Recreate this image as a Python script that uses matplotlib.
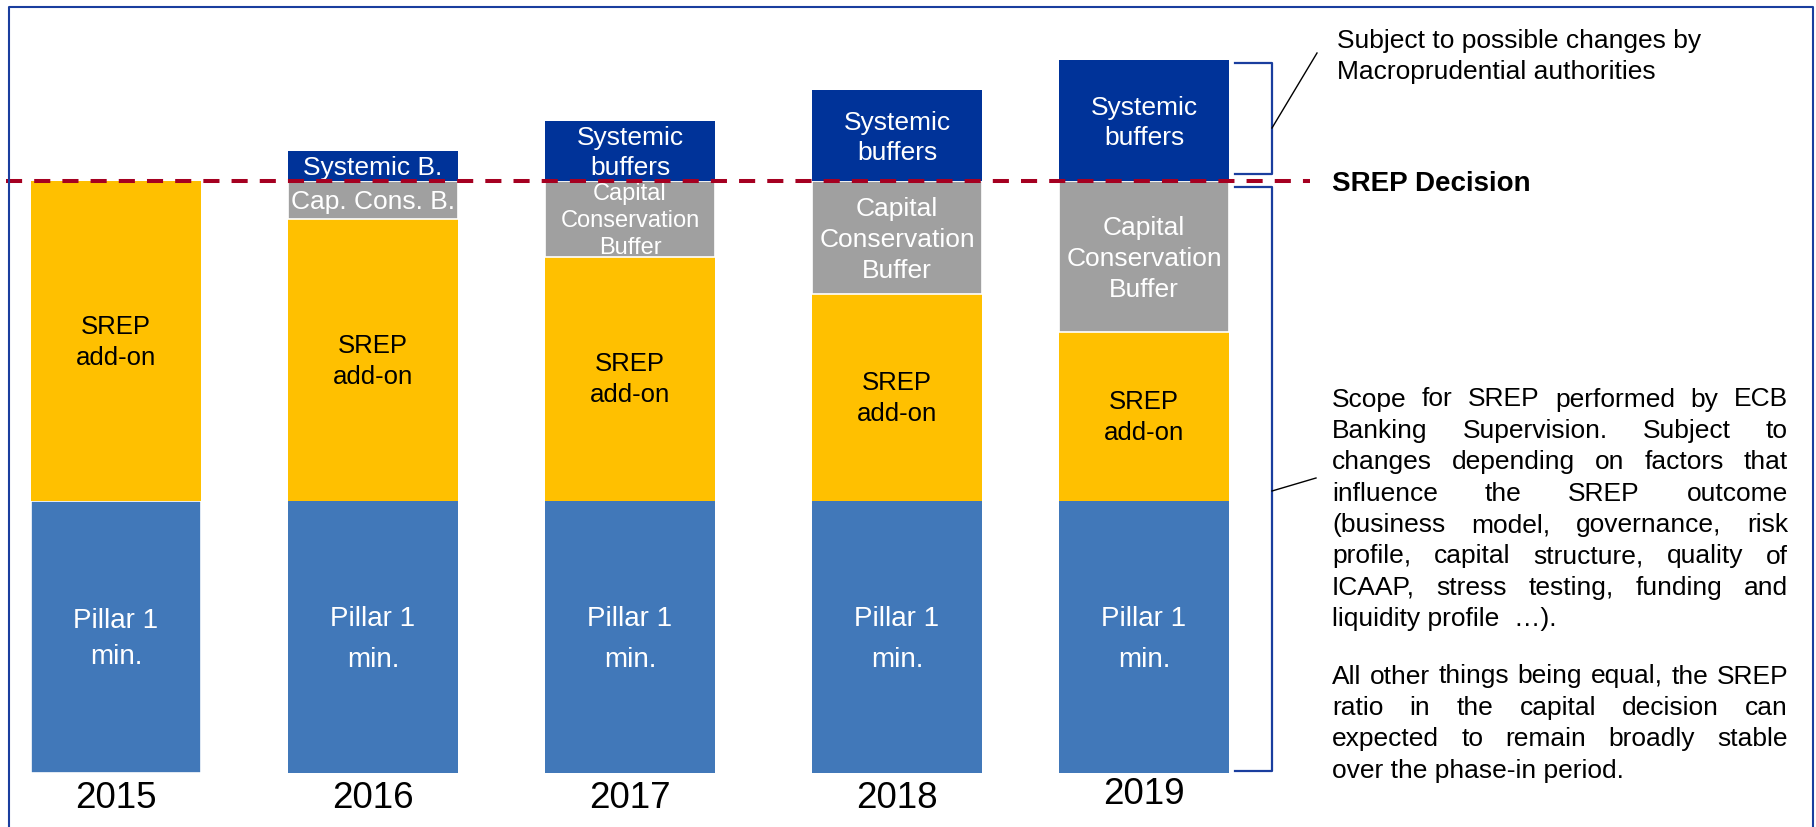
import matplotlib
matplotlib.use("Agg")
import matplotlib.pyplot as plt

plt.rcParams['font.family'] = ['Liberation Sans', 'DejaVu Sans']

# ---- data (% of risk-weighted assets) ----
years = ["2015", "2016", "2017", "2018", "2019"]
pillar1 = [4.5, 4.5, 4.5, 4.5, 4.5]
srep_addon = [5.3, 4.675, 4.05, 3.425, 2.8]
cap_cons_buffer = [0.0, 0.625, 1.25, 1.875, 2.5]
systemic_buffers = [0.0, 0.5, 1.0, 1.5, 2.0]

pillar_labels = ["Pillar 1\nmin."] * 5
addon_labels = ["SREP\nadd-on"] * 5
ccb_labels = ["", "Cap. Cons. B.", "Capital\nConservation\nBuffer",
              "Capital\nConservation\nBuffer", "Capital\nConservation\nBuffer"]
systemic_labels = ["", "Systemic B.", "Systemic\nbuffers",
                   "Systemic\nbuffers", "Systemic\nbuffers"]

top_note = "Subject to possible changes by\nMacroprudential authorities"
decision_label = "SREP Decision"
scope_lines = [
    "Scope for SREP performed by ECB",
    "Banking Supervision. Subject to",
    "changes depending on factors that",
    "influence the SREP outcome",
    "(business model, governance, risk",
    "profile, capital structure, quality of",
    "ICAAP, stress testing, funding and",
    "liquidity profile  \u2026).",
]
stable_lines = [
    "All other things being equal, the SREP",
    "ratio in the capital decision can",
    "expected to remain broadly stable",
    "over the phase-in period.",
]

# ---- layout ----
W, H, DPI = 1816, 827, 100
PPU = 60.4          # pixels per percentage point
BASE = 773          # baseline, pixels from top
x_centers = [116, 373, 630, 897, 1144]
bar_w = 170

C_PILLAR = "#4178B9"
C_ADDON = "#FFC000"
C_CCB = "#A0A0A0"
C_SYS = "#003399"
C_DASH = "#A50021"
C_FRAME = "#1A3E9E"

fig = plt.figure(figsize=(W / DPI, H / DPI), dpi=DPI)
ax = fig.add_axes([0, 0, 1, 1])
ax.set_xlim(0, W)
ax.set_ylim(-(H - BASE) / PPU, BASE / PPU)
ax.axis("off")

ov = fig.add_axes([0, 0, 1, 1], zorder=5)
ov.set_xlim(0, W)
ov.set_ylim(H, 0)
ov.axis("off")
ov.patch.set_alpha(0)


def stacked_bar(values, bottoms, color, lw):
    return ax.bar(x_centers, values, bottom=bottoms, width=bar_w, color=color,
                  edgecolor="white", linewidth=lw, zorder=2)


b0 = [0] * 5
b1 = [p for p in pillar1]
b2 = [p + a for p, a in zip(pillar1, srep_addon)]
b3 = [p + a + c for p, a, c in zip(pillar1, srep_addon, cap_cons_buffer)]

bars_p = stacked_bar(pillar1, b0, C_PILLAR, [1.2, 0, 0, 0, 0])
bars_a = stacked_bar(srep_addon, b1, C_ADDON, 0)
bars_c = stacked_bar(cap_cons_buffer, b2, C_CCB, [0, 1.2, 1.2, 1.2, 1.2])
bars_s = stacked_bar(systemic_buffers, b3, C_SYS, 0)


def seg_label(x, ymid, text, size, color, spacing, patch, dy=0):
    lines = text.split("\n")
    n = len(lines)
    for i, line in enumerate(lines):
        off = ((n - 1) / 2 - i) * spacing - dy
        t = ax.text(x, ymid + off / PPU, line, ha="center", va="center",
                    fontsize=size, color=color, zorder=3)
        t.set_clip_path(patch)


for i in range(5):
    x = x_centers[i]
    seg_label(x, pillar1[i] / 2, pillar_labels[i], 20, "white",
              36 if i == 0 else 41, bars_p.patches[i], dy=2)
    seg_label(x, b1[i] + srep_addon[i] / 2, addon_labels[i], 18.5, "black",
              31, bars_a.patches[i], dy=1)
    if cap_cons_buffer[i] > 0:
        small = i == 2
        seg_label(x, b2[i] + cap_cons_buffer[i] / 2, ccb_labels[i],
                  17 if small else 19, "white", 27 if small else 31,
                  bars_c.patches[i], dy=2)
    if systemic_buffers[i] > 0:
        seg_label(x, b3[i] + systemic_buffers[i] / 2, systemic_labels[i], 19,
                  "white", 30, bars_s.patches[i], dy=2)

# year labels under the bars
year_dy = [0, 0, 0, 0, -4]
for i, y in enumerate(years):
    ax.text(x_centers[i], -(26 + year_dy[i]) / PPU, y, ha="center", va="center",
            fontsize=26.5, color="black")

# SREP decision level
srep_level = b2[0] + cap_cons_buffer[0]
ax.plot([6, 1310], [srep_level, srep_level], color=C_DASH, lw=2.9,
        linestyle=(0, (4, 3)), zorder=4, solid_capstyle="butt")

# frame
ov.plot([9, 9, 1813, 1813], [H + 5, 7, 7, H + 5], color=C_FRAME, lw=1.5)

# brackets
ov.plot([1235, 1272, 1272, 1235], [63, 63, 174, 174], color=C_FRAME, lw=1.6)
ov.plot([1235, 1272, 1272, 1235], [187, 187, 771, 771], color=C_FRAME, lw=1.6)
ov.plot([1272, 1317], [128, 53], color="black", lw=1.0)
ov.plot([1272, 1316], [491, 478], color="black", lw=1.0)

# notes
ov.text(1337, 41, top_note.split("\n")[0], ha="left", va="center", fontsize=19)
ov.text(1337, 72, top_note.split("\n")[1], ha="left", va="center", fontsize=19)
ov.text(1332, 184, decision_label, ha="left", va="center", fontsize=20,
        fontweight="bold")

renderer = fig.canvas.get_renderer()
X0, X1 = 1332, 1788
LINE = 31.4


def paragraph(lines, y0):
    for k, line in enumerate(lines):
        y = y0 + k * LINE
        last = k == len(lines) - 1
        if last:
            ov.text(X0, y, line, ha="left", va="center", fontsize=19)
            continue
        words = line.split(" ")
        texts = [ov.text(0, y, w, ha="left", va="center", fontsize=19)
                 for w in words]
        widths = [t.get_window_extent(renderer).width for t in texts]
        gap = (X1 - X0 - sum(widths)) / (len(words) - 1)
        x = X0
        for t, w in zip(texts, widths):
            t.set_x(x)
            x += w + gap


paragraph(scope_lines, 399.5)
paragraph(stable_lines, 676.5)

fig.savefig("out.png", dpi=DPI)
